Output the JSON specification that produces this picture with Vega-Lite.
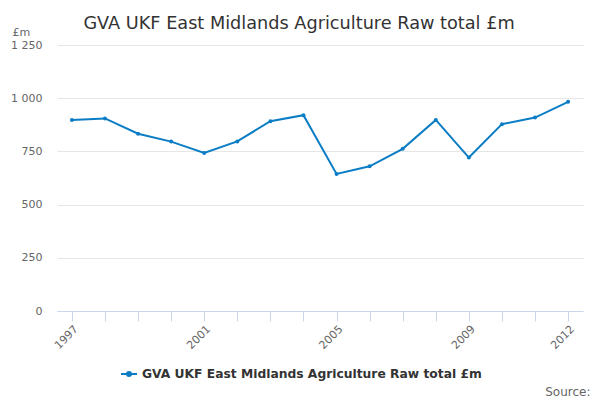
{
  "$schema": "https://vega.github.io/schema/vega-lite/v6.json",
  "autosize": "none",
  "width": 526,
  "height": 266,
  "padding": {"left": 57, "top": 45, "right": 17, "bottom": 89},
  "background": "white",
  "config": {
    "font": "DejaVu Sans",
    "view": {"stroke": null}
  },
  "title": {
    "text": "GVA UKF East Midlands Agriculture Raw total £m",
    "fontSize": 17.7,
    "fontWeight": "normal",
    "color": "#333333",
    "anchor": "middle",
    "frame": "group",
    "dx": -21,
    "dy": 21,
    "baseline": "alphabetic",
    "offset": 0
  },
  "data": {
    "values": [
      {"year": "1997", "value": 898, "series": "GVA UKF East Midlands Agriculture Raw total £m"},
      {"year": "1998", "value": 905, "series": "GVA UKF East Midlands Agriculture Raw total £m"},
      {"year": "1999", "value": 833, "series": "GVA UKF East Midlands Agriculture Raw total £m"},
      {"year": "2000", "value": 796, "series": "GVA UKF East Midlands Agriculture Raw total £m"},
      {"year": "2001", "value": 743, "series": "GVA UKF East Midlands Agriculture Raw total £m"},
      {"year": "2002", "value": 797, "series": "GVA UKF East Midlands Agriculture Raw total £m"},
      {"year": "2003", "value": 892, "series": "GVA UKF East Midlands Agriculture Raw total £m"},
      {"year": "2004", "value": 920, "series": "GVA UKF East Midlands Agriculture Raw total £m"},
      {"year": "2005", "value": 644, "series": "GVA UKF East Midlands Agriculture Raw total £m"},
      {"year": "2006", "value": 680, "series": "GVA UKF East Midlands Agriculture Raw total £m"},
      {"year": "2007", "value": 762, "series": "GVA UKF East Midlands Agriculture Raw total £m"},
      {"year": "2008", "value": 898, "series": "GVA UKF East Midlands Agriculture Raw total £m"},
      {"year": "2009", "value": 721, "series": "GVA UKF East Midlands Agriculture Raw total £m"},
      {"year": "2010", "value": 878, "series": "GVA UKF East Midlands Agriculture Raw total £m"},
      {"year": "2011", "value": 909, "series": "GVA UKF East Midlands Agriculture Raw total £m"},
      {"year": "2012", "value": 983, "series": "GVA UKF East Midlands Agriculture Raw total £m"}
    ]
  },
  "mark": {
    "type": "line",
    "strokeWidth": 2,
    "point": {"filled": true, "size": 16, "color": "#0b7dc5"}
  },
  "encoding": {
    "x": {
      "field": "year",
      "type": "ordinal",
      "scale": {"type": "point", "padding": 0.45},
      "axis": {
        "title": "Source:",
        "titleFontSize": 12,
        "titleFontWeight": "normal",
        "titleColor": "#666666",
        "titleAnchor": "end",
        "titleAlign": "right",
        "titleBaseline": "alphabetic",
        "titleX": 533,
        "titleY": 84,
        "labelAngle": -45,
        "labelFontSize": 11,
        "labelColor": "#666666",
        "labelExpr": "indexof(['1997','2001','2005','2009','2012'], datum.label) >= 0 ? datum.label : ''",
        "labelPadding": 2,
        "domainColor": "#ccd6eb",
        "tickColor": "#ccd6eb",
        "tickSize": 10,
        "grid": false
      }
    },
    "y": {
      "field": "value",
      "type": "quantitative",
      "scale": {"domain": [0, 1250]},
      "axis": {
        "values": [0, 250, 500, 750, 1000, 1250],
        "title": "£m",
        "titleAngle": 0,
        "titleFontSize": 11,
        "titleFontWeight": "normal",
        "titleColor": "#666666",
        "titleAlign": "left",
        "titleBaseline": "middle",
        "titleX": -45,
        "titleY": -13,
        "labelFontSize": 11,
        "labelColor": "#666666",
        "labelExpr": "replace(format(datum.value, ','), ',', ' ')",
        "labelPadding": 15,
        "domain": false,
        "ticks": false,
        "gridColor": "#e6e6e6"
      }
    },
    "color": {
      "field": "series",
      "type": "nominal",
      "scale": {"range": ["#0b7dc5"]},
      "legend": {
        "title": null,
        "orient": "none",
        "legendX": 63,
        "legendY": 320,
        "labelFontSize": 12.3,
        "labelFontWeight": "bold",
        "labelColor": "#333333",
        "labelLimit": 500,
        "symbolType": "M-1,0H1M0.25,0A0.25,0.25,0,1,1,-0.25,0A0.25,0.25,0,1,1,0.25,0",
        "symbolSize": 256,
        "symbolStrokeWidth": 2,
        "symbolFillColor": "#0b7dc5",
        "symbolStrokeColor": "#0b7dc5"
      }
    }
  }
}
